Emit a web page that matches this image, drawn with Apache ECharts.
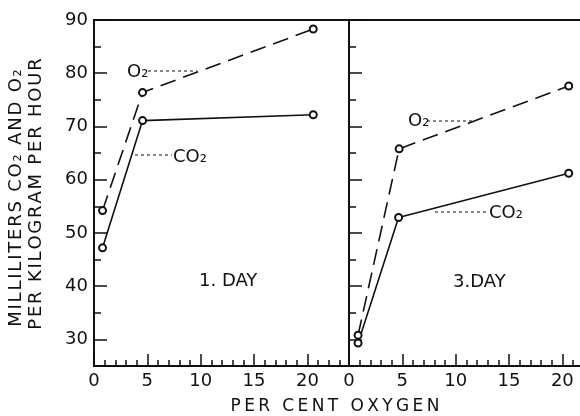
<!DOCTYPE html>
<html>
<head>
<meta charset="utf-8">
<script src="https://cdn.jsdelivr.net/npm/echarts@6/dist/echarts.min.js"></script>
<style>
  html, body { margin: 0; padding: 0; background: #fff; }
  #main { width: 580px; height: 416px; }
</style>
</head>
<body>
<div id="main"></div>
<script>
// values: [per cent oxygen, ml per kg per hour]
const day1O2 = [[0.8, 54.2], [4.55, 76.4], [20.55, 88.3]];
const day1CO2 = [[0.8, 47.2], [4.55, 71.1], [20.55, 72.2]];
const day3O2 = [[0.85, 30.8], [4.7, 65.8], [20.6, 77.6]];
const day3CO2 = [[0.85, 29.3], [4.65, 52.9], [20.6, 61.2]];
const xMajorTicks = [0, 5, 10, 15, 20];
const yMajorTicks = [30, 40, 50, 60, 70, 80, 90];
const panelTitles = ["1. DAY", "3.DAY"];

const font = "DejaVu Sans";
const ink = "#111";

// the original lettering is set wide, so pad letters with a small space
function spaced(text, sep) {
  return text.split("").join(sep);
}

function xAxes(gridIndex, max, showLabel) {
  return [
    {
      gridIndex, type: "value", position: "bottom", min: 0, max, interval: 1,
      axisLine: { show: true, lineStyle: { color: ink, width: 2 } },
      axisTick: { inside: true, length: 6, lineStyle: { color: ink, width: 1.5 } },
      splitLine: { show: false },
      axisLabel: {
        show: showLabel, color: ink, fontFamily: font, fontSize: 18, margin: 6,
        formatter: v => (v % 5 === 0 && v <= 20 ? String(v) : "")
      }
    },
    {
      // longer ticks at every 5 %
      gridIndex, type: "value", position: "bottom", min: 0, max,
      axisLine: { show: true, lineStyle: { color: "rgba(0,0,0,0)" } },
      axisTick: { show: true, inside: true, length: 12, customValues: xMajorTicks, lineStyle: { color: ink, width: 1.5 } },
      splitLine: { show: false },
      axisLabel: { show: false }
    }
  ];
}

function yAxes(gridIndex, showLabel) {
  return [
    {
      gridIndex, type: "value", position: "left", min: 25, max: 90, interval: 5,
      axisLine: { show: true, lineStyle: { color: ink, width: 2 } },
      axisTick: { inside: true, length: 7, lineStyle: { color: ink, width: 1.5 } },
      splitLine: { show: false },
      axisLabel: {
        show: showLabel, color: ink, fontFamily: font, fontSize: 18, margin: 6,
        formatter: v => (v % 10 === 0 ? String(v) : "")
      }
    },
    {
      // longer ticks at every 10 ml
      gridIndex, type: "value", position: "left", min: 25, max: 90,
      axisLine: { show: true, lineStyle: { color: "rgba(0,0,0,0)" } },
      axisTick: { show: true, inside: true, length: 13, customValues: yMajorTicks, lineStyle: { color: ink, width: 1.5 } },
      splitLine: { show: false },
      axisLabel: { show: false }
    }
  ];
}

function line(xi, yi, data, dashed) {
  return {
    type: "line", xAxisIndex: xi, yAxisIndex: yi, data,
    symbol: "emptyCircle", symbolSize: 7,
    itemStyle: { color: ink, borderColor: ink, borderWidth: 1.4 },
    lineStyle: { color: ink, width: 1.6, type: dashed ? [16, 8] : "solid" },
    animation: false, z: 3
  };
}

function leader(x1, y1, x2, y2) {
  return {
    type: "line", shape: { x1, y1, x2, y2 },
    style: { stroke: ink, lineWidth: 1, lineDash: [3, 3] }
  };
}

function label(text, x, y, size) {
  return {
    type: "text", x, y,
    style: { text, fill: ink, font: `${size || 18}px "${font}"`, textAlign: "left", textVerticalAlign: "middle" }
  };
}

const chart = echarts.init(document.getElementById("main"));
chart.setOption({
  backgroundColor: "#fff",
  animation: false,
  grid: [
    { left: 94, top: 20, width: 255, height: 346, show: true, borderColor: ink, borderWidth: 2, outerBoundsMode: "none" },
    // the right panel runs past the edge of the scanned page
    { left: 349, top: 20, width: 240, height: 346, show: true, borderColor: ink, borderWidth: 2, outerBoundsMode: "none" }
  ],
  xAxis: [...xAxes(0, 23.9, true), ...xAxes(1, 22.5, true)],
  yAxis: [...yAxes(0, true), ...yAxes(1, false)],
  series: [
    line(0, 0, day1O2, true),
    line(0, 0, day1CO2, false),
    line(2, 2, day3O2, true),
    line(2, 2, day3CO2, false)
  ],
  graphic: [
    leader(148, 71, 197, 71),
    label("O₂", 127, 72),
    leader(135, 155, 172, 155),
    label("CO₂", 173, 157),
    leader(427, 121, 472, 121),
    label("O₂", 408, 121),
    leader(435, 212, 488, 212),
    label("CO₂", 489, 213),
    label(panelTitles[0], 199, 281),
    label(panelTitles[1], 453, 282),
    {
      type: "text", x: 335, y: 407,
      style: { text: spaced("PER CENT OXYGEN", "\u2009"), fill: ink, font: `17px "${font}"`, textAlign: "center", textVerticalAlign: "middle" }
    },
    {
      type: "text", x: 16, y: 198, rotation: Math.PI / 2,
      style: { text: spaced("MILLILITERS CO₂ AND O₂", "\u200A"), fill: ink, font: `18px "${font}"`, textAlign: "center", textVerticalAlign: "middle" }
    },
    {
      type: "text", x: 36, y: 194, rotation: Math.PI / 2,
      style: { text: spaced("PER KILOGRAM PER HOUR", "\u200A"), fill: ink, font: `18px "${font}"`, textAlign: "center", textVerticalAlign: "middle" }
    }
  ]
});
</script>
</body>
</html>
